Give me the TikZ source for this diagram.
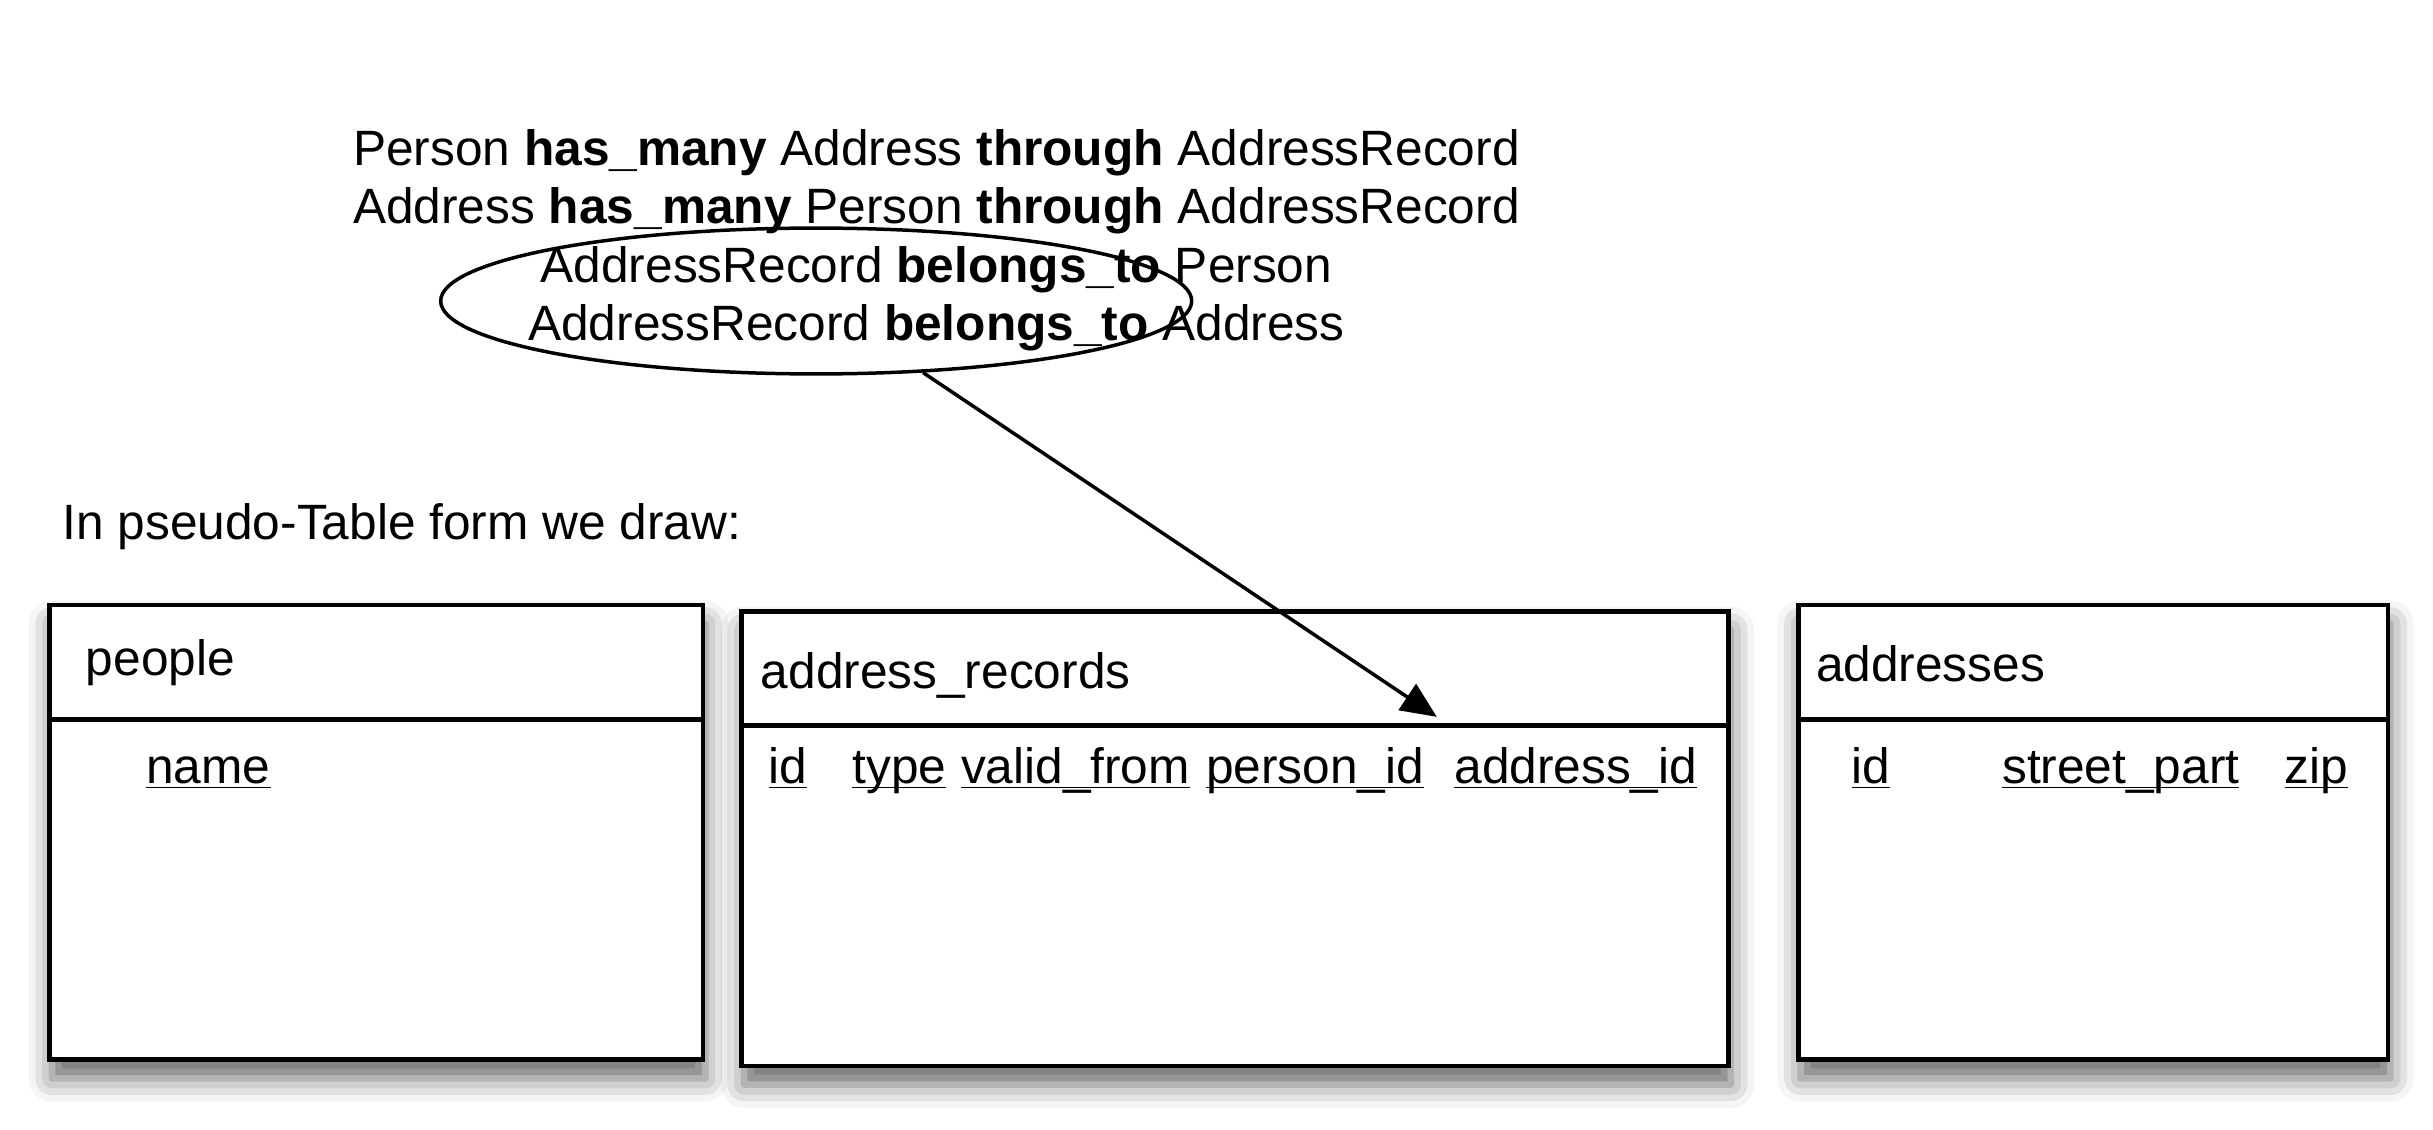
\documentclass[tikz,border=0pt]{standalone}
\usepackage{fontspec}
\setmainfont{Liberation Sans}
\usepackage{tikz}
\usetikzlibrary{shapes.geometric, arrows.meta, shadows.blur}

\newcommand{\tfont}{\fontsize{18.2pt}{21.4pt}\selectfont}
\newcommand{\fld}[1]{\underline{\smash{#1}}}

\begin{document}
\begin{tikzpicture}[
		every node/.style={inner sep=0pt, font=\tfont},
		tablebox/.style={rectangle, draw, line width=0.06cm, fill=white, minimum height=5.86cm,
			blur shadow={shadow xshift=0.03cm, shadow yshift=-0.24cm, shadow blur radius=0.3cm, shadow opacity=60}},
		textline/.style={anchor=base},
		cell/.style={anchor=base west}
	]
  \useasboundingbox (0,0) rectangle (31.36,14.56);
  % relations
  \node (l1) [textline] at (12.07, 12.43) {Person \textbf{has\_many} Address \textbf{through} AddressRecord};
  \node (l2) [textline] at (12.07, 11.68) {Address \textbf{has\_many} Person \textbf{through} AddressRecord};
  \node (l3) [textline] at (12.07, 10.92) {AddressRecord \textbf{belongs\_to} Person};
  \node (l4) [textline] at (12.07, 10.17) {AddressRecord \textbf{belongs\_to} Address};
  \node (belongs) [ellipse, draw, line width=0.045cm, minimum width=9.68cm, minimum height=1.88cm] at (10.52, 10.68) {};
  \node (intro) [cell] at (0.80, 7.61) {In pseudo-Table form we draw:};
  % tables
  \node (people) [tablebox, minimum width=8.42cm] at (4.85, 3.83) {};
  \node (records) [tablebox, minimum width=12.72cm] at (15.92, 3.75) {};
  \node (addresses) [tablebox, minimum width=7.60cm] at (26.98, 3.83) {};
  \draw [line width=0.06cm] ([yshift=-1.5cm]people.north west) -- ([yshift=-1.5cm]people.north east);
  \draw [line width=0.06cm] ([yshift=-1.5cm]records.north west) -- ([yshift=-1.5cm]records.north east);
  \draw [line width=0.06cm] ([yshift=-1.5cm]addresses.north west) -- ([yshift=-1.5cm]addresses.north east);
  \node (t_people) [cell] at (1.10, 5.85) {people};
  \node (t_records) [cell] at (9.80, 5.69) {address\_records};
  \node (t_addresses) [cell] at (23.40, 5.77) {addresses};
  \node (f_name) [cell] at (1.88, 4.46) {\fld{name}};
  \node (f_rid) [cell] at (9.90, 4.46) {\fld{id}};
  \node (f_type) [cell] at (10.98, 4.46) {\fld{type}};
  \node (f_valid) [cell] at (12.38, 4.46) {\fld{valid\_from}};
  \node (f_person) [cell] at (15.54, 4.46) {\fld{person\_id}};
  \node (f_address) [cell] at (18.74, 4.46) {\fld{address\_id}};
  \node (f_aid) [cell] at (23.86, 4.46) {\fld{id}};
  \node (f_street) [cell] at (25.80, 4.46) {\fld{street\_part}};
  \node (f_zip) [cell] at (29.44, 4.46) {\fld{zip}};
  % arrow
  \coordinate (tip) at (18.52, 5.32);
  \draw [line width=0.045cm, -{Triangle[length=0.46cm, width=0.40cm]}] (belongs) -- (tip);
\end{tikzpicture}
\end{document}
